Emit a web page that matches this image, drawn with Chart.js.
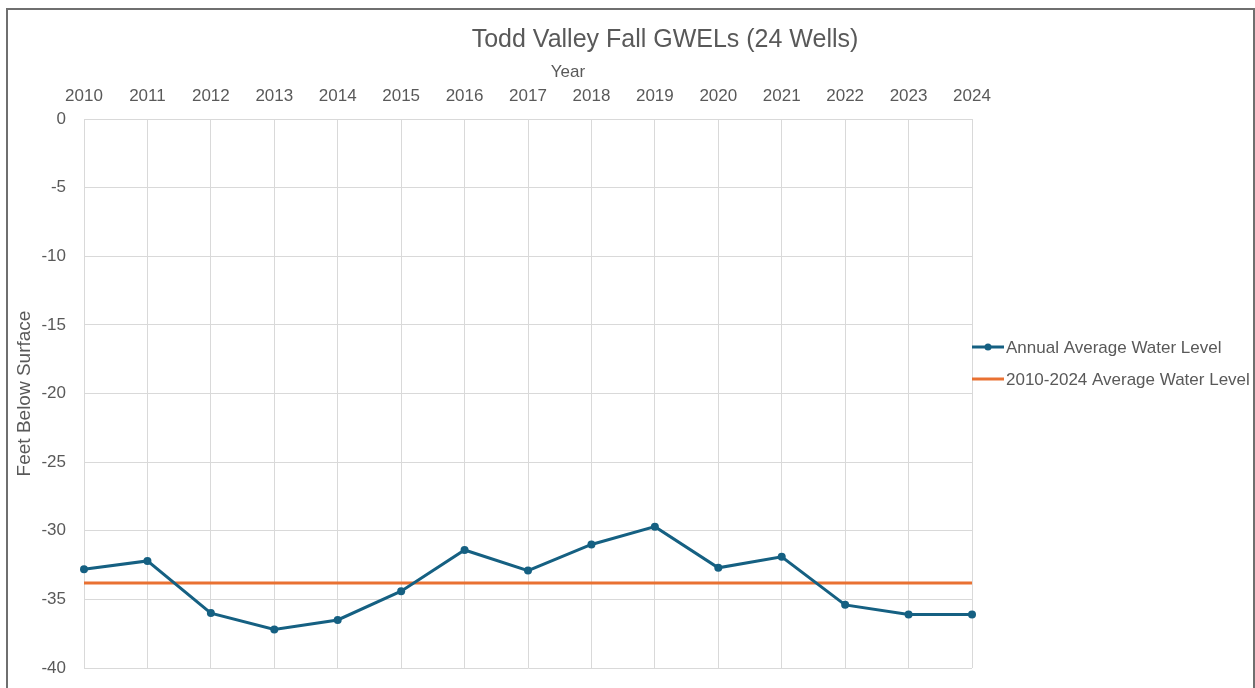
<!DOCTYPE html>
<html>
<head>
<meta charset="utf-8">
<script src="https://cdn.jsdelivr.net/npm/chart.js@4.4.1/dist/chart.umd.min.js"></script>
<style>
  html, body { margin: 0; padding: 0; background: #fff; overflow: hidden; }
  #wrap { position: absolute; left: 0; top: 0; width: 1255px; height: 688px; }
  #frame { position: absolute; left: 6px; top: 8px; width: 1245px; height: 700px;
           border: 2px solid #6f6f6f; pointer-events: none; }
</style>
</head>
<body>
<div id="wrap"><canvas id="gwelChart" width="1255" height="688"></canvas></div>
<div id="frame"></div>
<script>
// ── Data ────────────────────────────────────────────
const years = ['2010', '2011', '2012', '2013', '2014', '2015', '2016', '2017',
  '2018', '2019', '2020', '2021', '2022', '2023', '2024'];
const annualAvg = [-32.8, -32.2, -36.0, -37.2, -36.5, -34.4, -31.4, -32.9,
  -31.0, -29.7, -32.7, -31.9, -35.4, -36.1, -36.1];
const periodAvg = [-33.8, -33.8, -33.8, -33.8, -33.8, -33.8, -33.8, -33.8,
  -33.8, -33.8, -33.8, -33.8, -33.8, -33.8, -33.8];
const yTicks = [0, -5, -10, -15, -20, -25, -30, -35, -40];

const TEXT = '#595959';
const GRID = '#d9d9d9';
const BLUE = '#156082';
const ORANGE = '#e97132';
const FONT = "'Liberation Sans', Arial, sans-serif";

// Title, "Year" label and legend drawn over the canvas
const overlay = {
  id: 'overlay',
  afterDraw(chart) {
    const ctx = chart.ctx;
    ctx.save();
    ctx.fillStyle = TEXT;
    ctx.textAlign = 'center';
    ctx.textBaseline = 'middle';
    ctx.font = `25px ${FONT}`;
    ctx.fillText('Todd Valley Fall GWELs (24 Wells)', 665, 40);
    ctx.font = `17px ${FONT}`;
    ctx.fillText('Year', 568, 72);

    // legend
    const items = [
      { label: 'Annual Average Water Level', color: BLUE, dot: true, y: 347 },
      { label: '2010-2024 Average Water Level', color: ORANGE, dot: false, y: 379 },
    ];
    ctx.textAlign = 'left';
    ctx.font = `17px ${FONT}`;
    items.forEach(it => {
      ctx.strokeStyle = it.color;
      ctx.lineWidth = 3;
      ctx.beginPath();
      ctx.moveTo(972, it.y);
      ctx.lineTo(1004, it.y);
      ctx.stroke();
      if (it.dot) {
        ctx.fillStyle = it.color;
        ctx.beginPath();
        ctx.arc(988, it.y, 3.5, 0, Math.PI * 2);
        ctx.fill();
      }
      ctx.fillStyle = TEXT;
      ctx.fillText(it.label, 1006, it.y + 1);
    });
    ctx.restore();
  },
};

new Chart(document.getElementById('gwelChart').getContext('2d'), {
  type: 'line',
  data: {
    labels: years,
    datasets: [
      {
        label: 'Annual Average Water Level',
        data: annualAvg,
        borderColor: BLUE,
        backgroundColor: BLUE,
        borderWidth: 3,
        pointRadius: 4,
        pointBackgroundColor: BLUE,
        pointBorderWidth: 0,
        tension: 0,
        order: 1,
      },
      {
        label: '2010-2024 Average Water Level',
        data: periodAvg,
        borderColor: ORANGE,
        backgroundColor: ORANGE,
        borderWidth: 3,
        pointRadius: 0,
        tension: 0,
        order: 2,
      },
    ],
  },
  options: {
    responsive: false,
    animation: false,
    layout: { padding: { left: 0, right: 283, top: 0, bottom: 20 } },
    plugins: {
      legend: { display: false },
      title: { display: false },
      tooltip: { enabled: false },
    },
    scales: {
      x: {
        position: 'top',
        offset: false,
        grid: { color: GRID, lineWidth: 1, drawTicks: false, tickLength: 0 },
        border: { color: GRID },
        ticks: { color: TEXT, font: { family: FONT, size: 17 }, padding: 12, maxRotation: 0, autoSkip: false },
        afterFit(scale) {
          scale.height = 119;
          scale.paddingLeft = 0;
          scale.paddingRight = 0;
        },
      },
      y: {
        min: -40,
        max: 0,
        afterBuildTicks(scale) { scale.ticks = yTicks.map(v => ({ value: v })); },
        grid: { color: GRID, lineWidth: 1, drawTicks: false, tickLength: 0 },
        border: { color: GRID },
        ticks: { color: TEXT, font: { family: FONT, size: 17 }, padding: 18 },
        title: {
          display: true,
          text: 'Feet Below Surface',
          color: TEXT,
          font: { family: FONT, size: 19 },
          padding: { top: 13, bottom: 0 },
        },
        afterFit(scale) {
          scale.width = 84;
          scale.paddingTop = 0;
          scale.paddingBottom = 0;
        },
      },
    },
  },
  plugins: [overlay],
});
</script>
</body>
</html>
